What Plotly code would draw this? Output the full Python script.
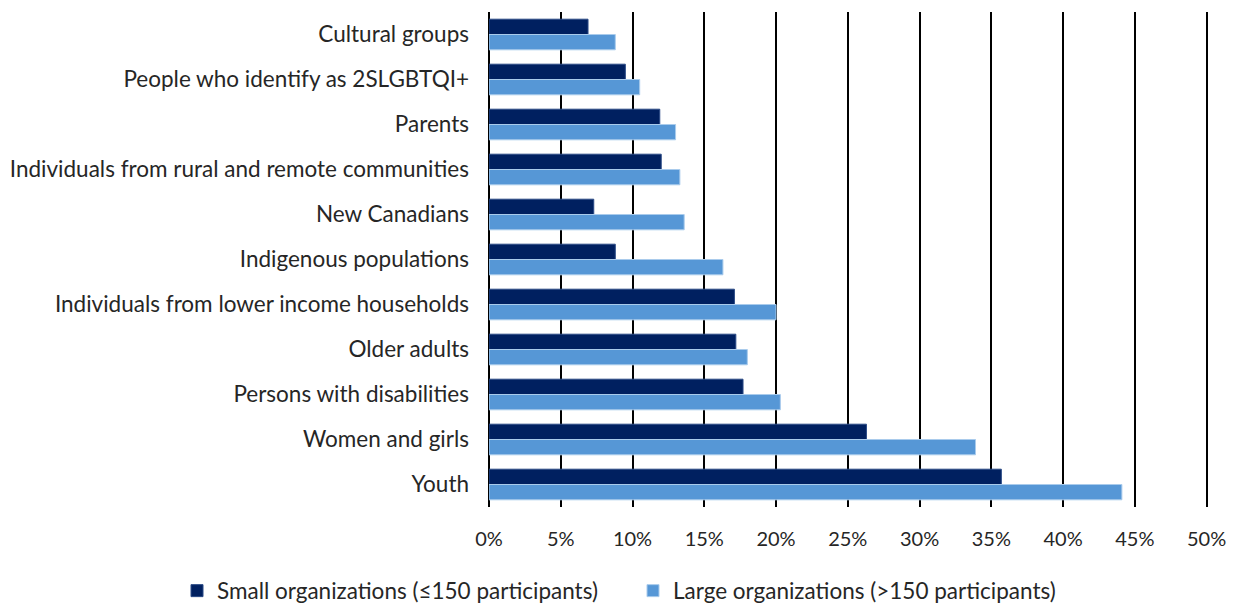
import plotly.graph_objects as go

categories = [
    "Cultural groups",
    "People who identify as 2SLGBTQI+",
    "Parents",
    "Individuals from rural and remote communities",
    "New Canadians",
    "Indigenous populations",
    "Individuals from lower income households",
    "Older adults",
    "Persons with disabilities",
    "Women and girls",
    "Youth",
]
small_orgs = [6.9, 9.5, 11.9, 12.0, 7.3, 8.8, 17.1, 17.2, 17.7, 26.3, 35.7]
large_orgs = [8.8, 10.5, 13.0, 13.3, 13.6, 16.3, 20.0, 18.0, 20.3, 33.9, 44.1]
tick_vals = [0, 5, 10, 15, 20, 25, 30, 35, 40, 45, 50]
tick_text = [f"{v}%" for v in tick_vals]

FONT = "Lato"
TEXT = "#262626"
W, H = 1239, 606

fig = go.Figure()
fig.add_trace(go.Bar(
    y=categories, x=small_orgs, orientation="h",
    name="Small organizations (≤150 participants)",
    marker=dict(color="#002060", line=dict(color="#2a4a86", width=1)),
    legend="legend",
))
fig.add_trace(go.Bar(
    y=categories, x=large_orgs, orientation="h",
    name="Large organizations (>150 participants)",
    marker=dict(color="#5697d6", line=dict(color="#a9cbec", width=1)),
    legend="legend2",
))

legend_common = dict(
    orientation="h", xref="container", yref="container",
    xanchor="left", yanchor="middle", y=(H - 591) / H,
    font=dict(family=FONT, size=22.5, color=TEXT),
    bgcolor="rgba(0,0,0,0)", itemwidth=30,
)

fig.update_layout(
    width=W, height=H,
    margin=dict(l=489, r=31, t=12, b=99, autoexpand=False),
    paper_bgcolor="white", plot_bgcolor="white",
    barmode="group", bargap=0.32, bargroupgap=0,
    font=dict(family=FONT, size=20, color=TEXT),
    showlegend=True,
    legend=dict(legend_common, x=177 / W),
    legend2=dict(legend_common, x=633 / W),
    xaxis=dict(
        range=[0, 50.1], tickvals=tick_vals, ticktext=tick_text,
        showgrid=True, gridcolor="black", gridwidth=2,
        zeroline=True, zerolinecolor="black", zerolinewidth=2,
        showline=False, ticks="", ticklabelstandoff=18,
        tickfont=dict(family=FONT, size=20, color=TEXT),
        fixedrange=True,
    ),
    yaxis=dict(
        autorange="reversed", showgrid=False, showline=False,
        ticks="", ticklabelstandoff=19,
        tickfont=dict(family=FONT, size=22.5, color=TEXT),
    ),
)

fig.write_html("out.html")
